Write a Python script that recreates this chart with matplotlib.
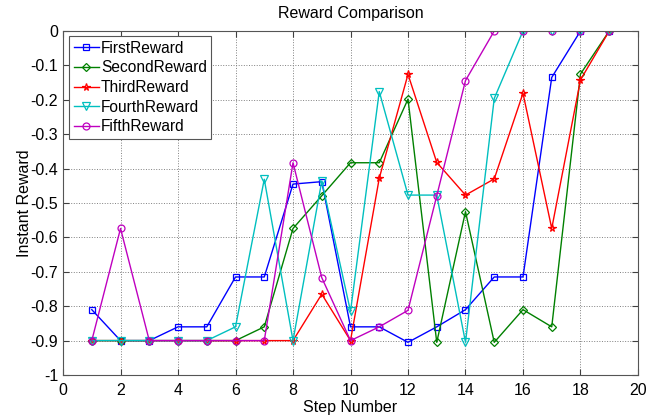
import matplotlib
matplotlib.use("Agg")
import matplotlib.pyplot as plt
import numpy as np

plt.rcParams['font.family'] = ['Liberation Sans', 'DejaVu Sans']

steps = list(range(1, 20))
first_reward = [-0.81, -0.9, -0.9, -0.86, -0.86, -0.715, -0.715, -0.445, -0.438, -0.86,
                -0.86, -0.905, -0.86, -0.81, -0.715, -0.715, -0.135, 0.0, 0.0]
second_reward = [-0.9, -0.9, -0.9, -0.9, -0.9, -0.9, -0.86, -0.574, -0.479, -0.383,
                 -0.383, -0.198, -0.905, -0.525, -0.905, -0.81, -0.86, -0.125, 0.0]
third_reward = [-0.9, -0.9, -0.9, -0.9, -0.9, -0.9, -0.9, -0.9, -0.765, -0.9,
                -0.428, -0.126, -0.382, -0.477, -0.43, -0.181, -0.574, -0.142, 0.0]
fourth_reward = [-0.9, -0.9, -0.9, -0.9, -0.9, -0.86, -0.431, -0.9, -0.436, -0.815,
                 -0.176, -0.477, -0.477, -0.905, -0.196, 0.0, 0.0, 0.0, 0.0]
fifth_reward = [-0.9, -0.574, -0.9, -0.9, -0.9, -0.9, -0.9, -0.383, -0.717, -0.9,
                -0.86, -0.812, -0.479, -0.144, 0.0, 0.0, 0.0, 0.0, 0.0]

labels = ['FirstReward', 'SecondReward', 'ThirdReward', 'FourthReward', 'FifthReward']
series = [first_reward, second_reward, third_reward, fourth_reward, fifth_reward]
colors = ['#0000ff', '#008000', '#ff0000', '#00bfbf', '#bf00bf']
markers = ['s', 'D', '*', 'v', 'o']
msizes = [4.5, 3.8, 5.5, 5.5, 5.0]

xticks = list(range(0, 21, 2))
yticks = [-1, -0.9, -0.8, -0.7, -0.6, -0.5, -0.4, -0.3, -0.2, -0.1, 0]

fig = plt.figure(figsize=(6.67, 4.17), dpi=100)
ax = fig.add_axes([0.0945, 0.1007, 0.862, 0.825])

for y, lab, c, m, ms in zip(series, labels, colors, markers, msizes):
    ax.plot(steps, y, color=c, marker=m, markersize=ms, markerfacecolor='none',
            markeredgecolor=c, markeredgewidth=0.9, linewidth=1.0, label=lab)

ax.set_xlim(0, 20)
ax.set_ylim(-1, 0)
ax.set_xticks(xticks)
ax.set_yticks(yticks)
ax.set_yticklabels(['%g' % v for v in yticks])
ax.grid(True, linestyle=':', color='#808080', linewidth=0.7)
ax.tick_params(direction='in', top=True, right=True, length=4, labelsize=11.5,
               color='#404040')
ax.tick_params(axis='x', pad=6)
for s in ax.spines.values():
    s.set_color('#555555')
    s.set_linewidth(0.8)

ax.set_title('Reward Comparison', fontsize=11.5, pad=9)
ax.set_xlabel('Step Number', fontsize=11.5, labelpad=1)
ax.set_ylabel('Instant Reward', fontsize=11.5, labelpad=-1)

leg = ax.legend(loc='upper left', bbox_to_anchor=(0.0104, 0.985), borderaxespad=0,
                fontsize=11.2, handlelength=1.6, handletextpad=0.15, labelspacing=0.3,
                borderpad=0.3, fancybox=False, framealpha=1, edgecolor='#555555')
leg.get_frame().set_linewidth(0.8)

fig.savefig('out.png', dpi=100)
